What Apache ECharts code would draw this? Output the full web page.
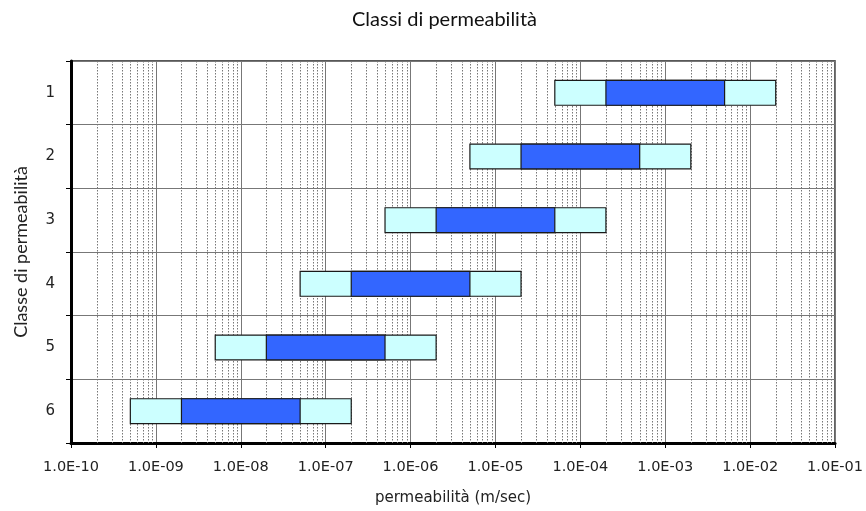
<!DOCTYPE html>
<html>
<head>
<meta charset="utf-8">
<script src="https://cdn.jsdelivr.net/npm/echarts@6/dist/echarts.min.js"></script>
<style>html,body{margin:0;padding:0;background:#fff;}#c{width:866px;height:511px;}</style>
</head>
<body>
<div id="c"></div>
<script>
// Data
const categories = ['1', '2', '3', '4', '5', '6'];
const outerMin = [5e-5, 5e-6, 5e-7, 5e-8, 5e-9, 5e-10];
const innerMin = [2e-4, 2e-5, 2e-6, 2e-7, 2e-8, 2e-9];
const innerMax = [5e-3, 5e-4, 5e-5, 5e-6, 5e-7, 5e-8];
const outerMax = [2e-2, 2e-3, 2e-4, 2e-5, 2e-6, 2e-7];

// Axis decoration: minor log grid lines (2..9 in each decade)
const decadeExponents = [-10, -9, -8, -7, -6, -5, -4, -3, -2];
const minorMultipliers = [2, 3, 4, 5, 6, 7, 8, 9];
const minorLines = [];
decadeExponents.forEach(e => minorMultipliers.forEach(m => minorLines.push([Number(m + 'e' + e)])));

const seriesData = categories.map((c, i) => [i, outerMin[i], innerMin[i], innerMax[i], outerMax[i]]);

function fmt(v) {
  const s = Number(v).toExponential(1).toUpperCase();
  return s.replace(/E([+-])(\d)$/, 'E$10$2');
}

const chart = echarts.init(document.getElementById('c'));
chart.setOption({
  animation: false,
  backgroundColor: '#fff',
  title: {
    text: 'Classi di permeabilità',
    left: 347,
    top: 5,
    textStyle: { fontFamily: 'Lato', fontSize: 20, fontWeight: 'normal', color: '#111' }
  },
  grid: {
    left: 71, right: 29, top: 61, bottom: 63,
    show: true, borderColor: '#222', borderWidth: 1.5, backgroundColor: 'transparent'
  },
  xAxis: {
    type: 'log',
    logBase: 10,
    min: 1e-10,
    max: 1e-1,
    splitNumber: 9,
    name: 'permeabilità (m/sec)',
    nameLocation: 'middle',
    nameGap: 48,
    nameTextStyle: { fontFamily: 'DejaVu Sans', fontSize: 15, color: '#222' },
    axisLine: { show: true, onZero: false, lineStyle: { color: '#000', width: 3 } },
    axisTick: { show: true, length: 5, lineStyle: { color: '#000', width: 1 } },
    axisLabel: { formatter: fmt, fontFamily: 'DejaVu Sans', fontSize: 14.5, color: '#222', margin: 17 },
    splitLine: { show: true, lineStyle: { color: '#777', width: 1 } },
    minorTick: { show: false },
    minorSplitLine: { show: false }
  },
  yAxis: {
    type: 'category',
    inverse: true,
    data: categories,
    name: 'Classe di permeabilità',
    nameLocation: 'middle',
    nameGap: 41,
    nameTextStyle: { fontFamily: 'Lato', fontSize: 18, color: '#222' },
    axisLine: { show: true, lineStyle: { color: '#000', width: 3 } },
    axisTick: { show: true, length: 5, lineStyle: { color: '#000', width: 1 } },
    axisLabel: { fontFamily: 'DejaVu Sans', fontSize: 15, color: '#222', margin: 16 },
    splitLine: { show: true, lineStyle: { color: '#777', width: 1 } }
  },
  series: [
    {
      type: 'custom',
      z: 1,
      silent: true,
      data: minorLines,
      encode: { x: 0 },
      renderItem: function (params, api) {
        const cs = params.coordSys;
        const x = Math.round(api.coord([api.value(0), 0])[0]) + 0.5;
        return {
          type: 'line',
          shape: { x1: x, y1: cs.y, x2: x, y2: cs.y + cs.height },
          style: { stroke: '#777', lineWidth: 1, lineDash: [1.5, 1.5] }
        };
      }
    },
    {
      type: 'custom',
      z: 5,
      data: seriesData,
      encode: { x: [1, 2, 3, 4], y: 0 },
      renderItem: function (params, api) {
        const cat = api.value(0);
        const p0 = api.coord([api.value(1), cat]);
        const p1 = api.coord([api.value(2), cat]);
        const p2 = api.coord([api.value(3), cat]);
        const p3 = api.coord([api.value(4), cat]);
        const h = params.coordSys.height / categories.length * 0.39;
        const y = p0[1] - h / 2;
        return {
          type: 'group',
          children: [
            { type: 'rect', shape: { x: p0[0], y: y, width: p3[0] - p0[0], height: h },
              style: { fill: '#CCFFFF', stroke: '#1a1a1a', lineWidth: 1.2 } },
            { type: 'rect', shape: { x: p1[0], y: y, width: p2[0] - p1[0], height: h },
              style: { fill: '#3366FF', stroke: '#1a1a1a', lineWidth: 1.2 } }
          ]
        };
      }
    }
  ]
});
</script>
</body>
</html>
